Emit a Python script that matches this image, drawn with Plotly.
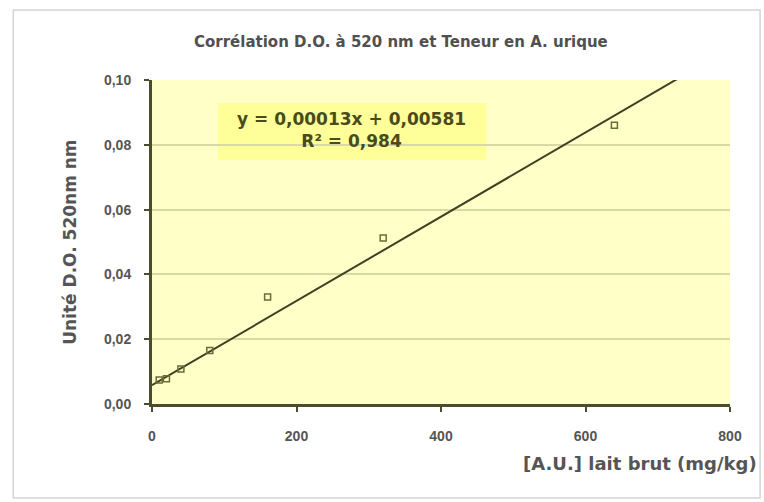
import plotly.graph_objects as go

# Dilution series: concentration (mg/kg) vs optical density at 520 nm
concentration = [10, 20, 40, 80, 160, 320, 640]
optical_density = [0.0074, 0.0078, 0.0108, 0.0165, 0.033, 0.0512, 0.086]

# Linear trendline parameters (as shown in the equation box)
slope = 0.00013
intercept = 0.00581
r_squared = 0.984
trend_x = [0, 760]
trend_y = [slope * x + intercept for x in trend_x]

x_ticks = [0, 200, 400, 600, 800]
y_ticks = [0.00, 0.02, 0.04, 0.06, 0.08, 0.10]

axis_color = "#4b4b2e"
font_family = "Liberation Sans, Arial, sans-serif"
wide_family = "DejaVu Sans, Verdana, sans-serif"


def fr(v):
    return str(v).replace(".", ",")


fig = go.Figure()

fig.add_trace(go.Scatter(
    x=trend_x, y=trend_y, mode="lines",
    line=dict(color="#3f3f22", width=2),
    hoverinfo="skip", showlegend=False,
))

fig.add_trace(go.Scatter(
    x=concentration, y=optical_density, mode="markers",
    marker=dict(symbol="square-open", size=6, color="#6b6b3a",
                line=dict(width=1.5, color="#6b6b3a")),
    showlegend=False,
))

# Equation box
fig.add_shape(type="rect", xref="paper", yref="paper",
              x0=0.114, x1=0.578, y0=0.753, y1=0.929,
              fillcolor="#ffff99", line=dict(width=0), layer="below")

fig.add_annotation(
    xref="paper", yref="paper", x=0.346, y=0.845, yanchor="middle",
    text=f"<b>y = {fr(slope)}x + {fr(intercept)}<br>R² = {fr(r_squared)}</b>",
    showarrow=False, align="center",
    font=dict(family=wide_family, size=17, color="#4a4a1a"),
)

# Outer chart border
fig.add_shape(type="rect", xref="paper", yref="paper",
              x0=-0.24, x1=1.052, y0=-0.29, y1=1.216,
              line=dict(color="#d4d4d4", width=1.5), fillcolor="rgba(0,0,0,0)",
              layer="below")

fig.add_annotation(
    xref="paper", yref="paper", x=0.43, y=1.117, yanchor="middle",
    text="<b>Corrélation D.O. à 520 nm et Teneur en A. urique</b>",
    showarrow=False, font=dict(family=wide_family, size=15, color="#505050"),
)

fig.add_annotation(
    xref="paper", yref="paper", x=1.05, y=-0.185, xanchor="right", yanchor="middle",
    text="<b>[A.U.] lait brut (mg/kg)</b>",
    showarrow=False, font=dict(family=wide_family, size=18, color="#555555"),
)

fig.add_annotation(
    xref="paper", yref="paper", x=-0.163, y=0.5, textangle=-90,
    text="<b>Unité D.O. 520nm nm</b>",
    showarrow=False, font=dict(family=wide_family, size=17, color="#555555"),
)

fig.update_layout(
    width=764, height=502,
    margin=dict(l=152, r=34, t=80, b=98),
    paper_bgcolor="white",
    plot_bgcolor="#ffffc8",
    separators=", ",
    font=dict(family=font_family, size=14, color="#555555"),
)

fig.update_xaxes(
    range=[0, 800], tickvals=x_ticks, ticktext=[f"<b>{v}</b>" for v in x_ticks],
    tickfont=dict(size=14, color="#555555"),
    showgrid=False, zeroline=False,
    showline=True, linecolor=axis_color, linewidth=3,
    ticks="outside", ticklen=5, tickwidth=2, tickcolor=axis_color,
    ticklabelstandoff=12,
)

fig.update_yaxes(
    range=[0, 0.1], tickvals=y_ticks,
    ticktext=[f"<b>{v:.2f}</b>".replace(".", ",") for v in y_ticks],
    tickfont=dict(size=14, color="#555555"),
    showgrid=True, gridcolor="#d9d9a6", gridwidth=1.5, zeroline=False,
    showline=True, linecolor=axis_color, linewidth=3,
    ticks="outside", ticklen=5, tickwidth=2, tickcolor=axis_color,
    ticklabelstandoff=10,
)

fig.write_html("out.html")
